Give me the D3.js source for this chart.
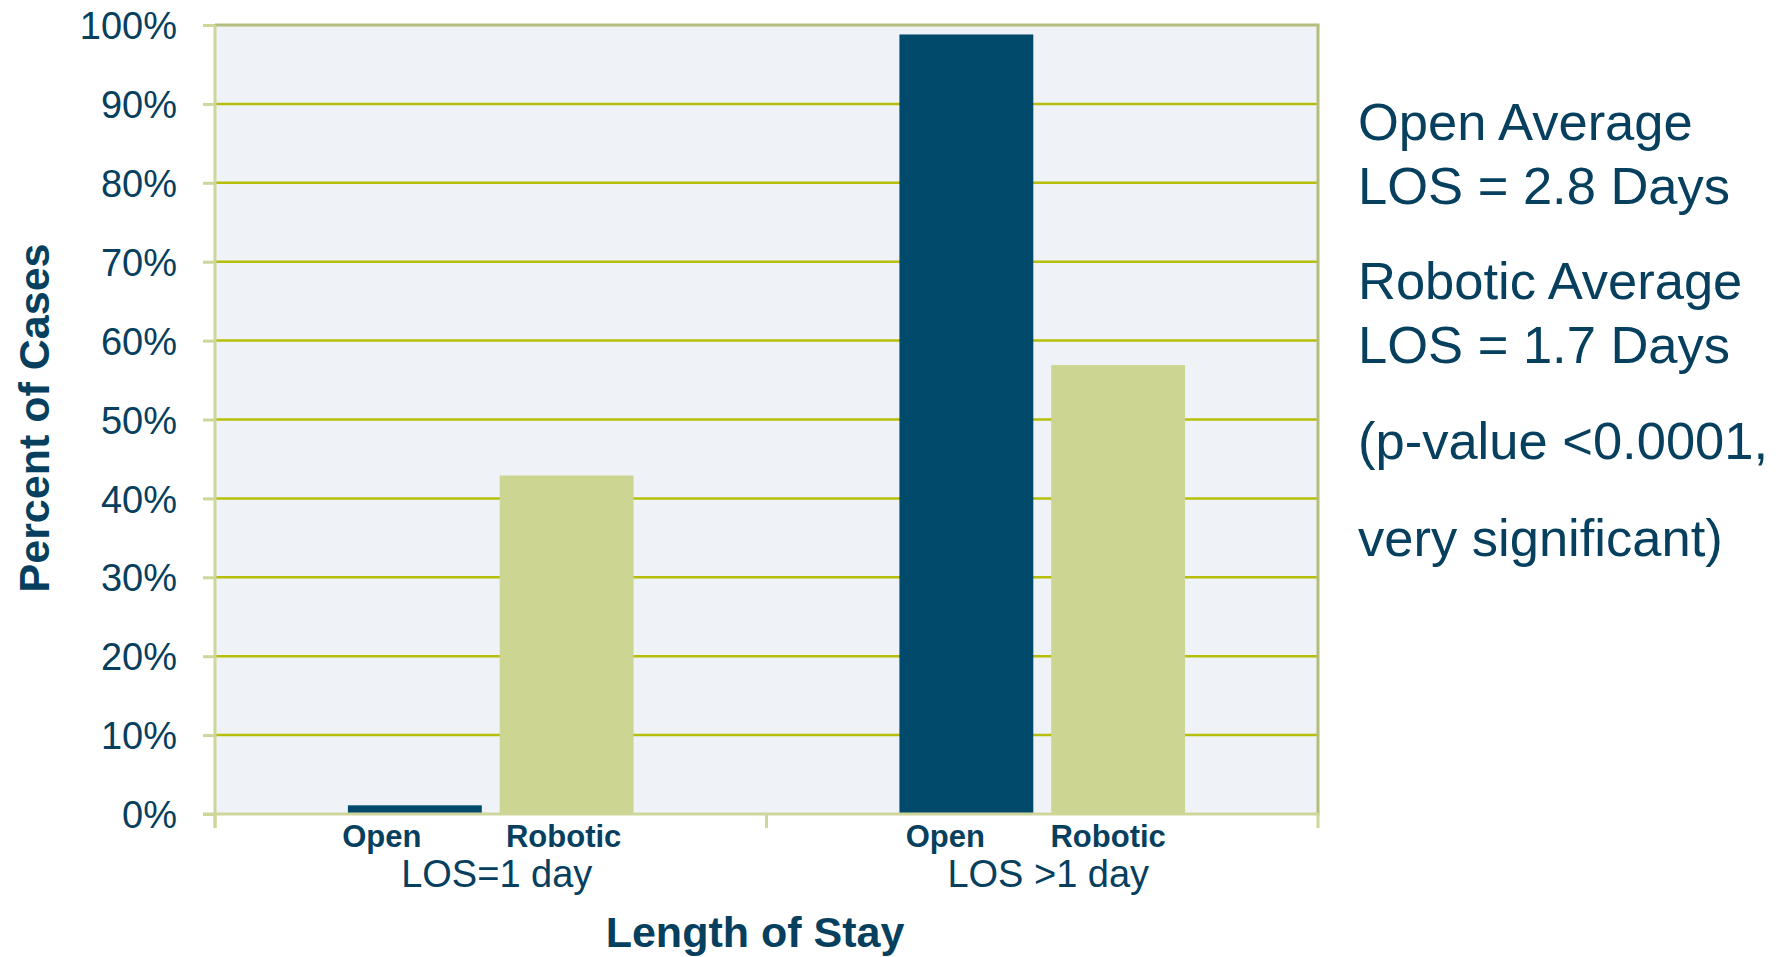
<!DOCTYPE html>
<html>
<head>
<meta charset="utf-8">
<script src="https://cdn.jsdelivr.net/npm/d3@7"></script>
<style>
  body { margin: 0; background: #fff; }
  svg { display: block; font-family: "Liberation Sans", Arial, sans-serif; }
</style>
</head>
<body>
<svg id="chart"></svg>
<script>
// Data
const categories = ["LOS=1 day", "LOS >1 day"];
const series = ["Open", "Robotic"];
const openValues = [1.1, 98.8];
const roboticValues = [42.9, 56.9];
const yTicks = [0, 10, 20, 30, 40, 50, 60, 70, 80, 90, 100];
const notes = [
    "Open Average",
    "LOS = 2.8 Days",
    "Robotic Average",
    "LOS = 1.7 Days",
    "(p-value <0.0001,",
    "very significant)"
];

const W = 1783, H = 957;
const textColor = "#06405e";
const colors = { Open: "#024a6b", Robotic: "#ccd591" };

const svg = d3.select("#chart").attr("width", W).attr("height", H);

const plot = { left: 215, right: 1318, top: 25, bottom: 814 };

const x0 = d3.scaleBand()
    .domain(categories)
    .range([plot.left, plot.right])
    .padding(0);

const x1 = d3.scaleBand()
    .domain(series)
    .range([x0.bandwidth() * 0.241, x0.bandwidth() * 0.759])
    .paddingInner(0.118)
    .paddingOuter(0);

const y = d3.scaleLinear()
    .domain([0, 100])
    .range([plot.bottom, plot.top]);

// background
svg.append("rect")
    .attr("x", plot.left)
    .attr("y", plot.top)
    .attr("width", plot.right - plot.left)
    .attr("height", plot.bottom - plot.top)
    .attr("fill", "#eff3f8");

// gridlines
svg.append("g")
    .selectAll("line")
    .data(yTicks.filter(t => t > 0 && t < 100))
    .enter().append("line")
    .attr("x1", plot.left)
    .attr("x2", plot.right)
    .attr("y1", d => y(d))
    .attr("y2", d => y(d))
    .attr("stroke", "#b6be0a")
    .attr("stroke-width", 2.5);

// top + right border
svg.append("line")
    .attr("x1", plot.left).attr("x2", plot.right + 1.5)
    .attr("y1", y(100)).attr("y2", y(100))
    .attr("stroke", "#b4be7c").attr("stroke-width", 3);
svg.append("line")
    .attr("x1", plot.right).attr("x2", plot.right)
    .attr("y1", y(100)).attr("y2", plot.bottom)
    .attr("stroke", "#b4be7c").attr("stroke-width", 3);

// bars
const rows = categories.map((c, i) => ({ cat: c, idx: i, values: [
    { key: "Open", value: openValues[i], idx: i },
    { key: "Robotic", value: roboticValues[i], idx: i }
] }));

const groups = svg.append("g")
    .selectAll("g")
    .data(rows)
    .enter().append("g")
    .attr("transform", d => `translate(${x0(d.cat)},0)`);

groups.selectAll("rect")
    .data(d => d.values)
    .enter().append("rect")
    .attr("x", d => x1(d.key))
    .attr("y", d => y(d.value))
    .attr("width", x1.bandwidth())
    .attr("height", d => y(0) - y(d.value))
    .attr("fill", d => colors[d.key]);

// y axis
const yAxis = svg.append("g")
    .attr("transform", `translate(${plot.left},0)`)
    .call(d3.axisLeft(y).tickValues(yTicks).tickSize(12).tickFormat(d => d + "%"));
yAxis.select(".domain").remove();
yAxis.selectAll(".tick line")
    .attr("stroke", "#cfd69a").attr("stroke-width", 3);
yAxis.selectAll(".tick text")
    .attr("x", -38)
    .attr("dy", "0.36em")
    .attr("fill", textColor)
    .style("font-size", "38px");
svg.append("line")
    .attr("x1", plot.left).attr("x2", plot.left)
    .attr("y1", plot.top).attr("y2", plot.bottom + 14)
    .attr("stroke", "#cfd69a").attr("stroke-width", 3);

// x axis baseline and ticks
svg.append("line")
    .attr("x1", plot.left - 12).attr("x2", plot.right + 1.5)
    .attr("y1", plot.bottom).attr("y2", plot.bottom)
    .attr("stroke", "#cfd69a").attr("stroke-width", 3);
const xEdges = categories.map(c => x0(c)).concat([plot.right]);
svg.append("g")
    .selectAll("line")
    .data(xEdges)
    .enter().append("line")
    .attr("x1", d => d).attr("x2", d => d)
    .attr("y1", plot.bottom).attr("y2", plot.bottom + 14)
    .attr("stroke", "#cfd69a").attr("stroke-width", 3);

// series labels under bars (hand-placed text boxes in the original)
const labelShift = [{ Open: -33, Robotic: -3 }, { Open: -21, Robotic: -10 }];
groups.selectAll(".series-label")
    .data(d => d.values)
    .enter().append("text")
    .attr("class", "series-label")
    .attr("x", d => x1(d.key) + x1.bandwidth() / 2 + labelShift[d.idx][d.key])
    .attr("y", 847)
    .attr("text-anchor", "middle")
    .attr("fill", textColor)
    .style("font-size", "31px")
    .style("font-weight", "bold")
    .text(d => d.key);

// category labels
svg.append("g")
    .selectAll("text")
    .data(categories)
    .enter().append("text")
    .attr("x", d => x0(d) + x0.bandwidth() / 2 + 6)
    .attr("y", 887)
    .attr("text-anchor", "middle")
    .attr("fill", textColor)
    .style("font-size", "38px")
    .text(d => d);

// axis titles
svg.append("text")
    .attr("x", 755)
    .attr("y", 947)
    .attr("text-anchor", "middle")
    .attr("fill", textColor)
    .style("font-size", "43px")
    .style("font-weight", "bold")
    .text("Length of Stay");

svg.append("text")
    .attr("transform", "translate(49,418) rotate(-90)")
    .attr("text-anchor", "middle")
    .attr("fill", textColor)
    .style("font-size", "43px")
    .style("font-weight", "bold")
    .text("Percent of Cases");

// notes on the right
const noteY = [140, 204, 299, 363, 459, 556];
svg.append("g")
    .selectAll("text")
    .data(notes)
    .enter().append("text")
    .attr("x", 1358)
    .attr("y", (d, i) => noteY[i])
    .attr("fill", textColor)
    .style("font-size", "52.5px")
    .text(d => d);
</script>
</body>
</html>
